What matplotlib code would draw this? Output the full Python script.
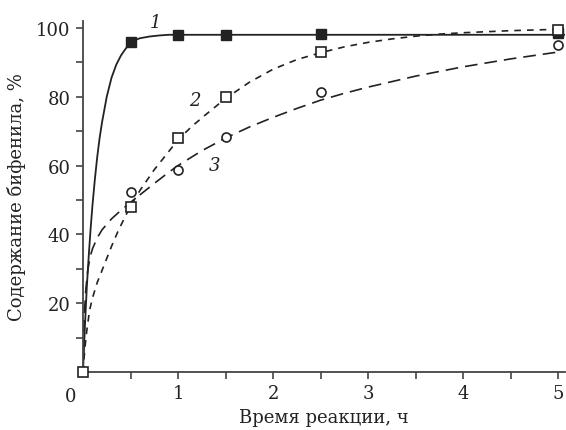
import matplotlib.pyplot as plt

# --- experimental points -------------------------------------------------
t_pts = [0.5, 1.0, 1.5, 2.5, 5.0]
c1_pts = [96.0, 98.0, 98.0, 98.3, 98.5]
c2_pts = [48.0, 68.0, 80.0, 93.0, 99.5]
c3_pts = [52.2, 58.8, 68.2, 81.3, 95.0]

# --- fitted curves -------------------------------------------------------
c1_x = [0, 0.02, 0.04, 0.06, 0.08, 0.1, 0.125, 0.15, 0.175, 0.2, 0.25, 0.3,
        0.35, 0.4, 0.45, 0.5, 0.55, 0.6, 0.7, 0.8, 0.9, 1.0, 5.07]
c1_y = [0, 13, 24.5, 33.5, 41.5, 48.5, 56, 62.5, 68, 72.5, 80, 85.5,
        89.3, 92, 94, 95.6, 96.5, 97.0, 97.5, 97.8, 98, 98, 98]

c2_x = [0, 0.02, 0.04, 0.07, 0.1, 0.15, 0.2, 0.25, 0.3, 0.37, 0.45, 0.5,
        0.6, 0.75, 0.9, 1.0, 1.15, 1.3, 1.5, 1.75, 2.0, 2.25, 2.5, 2.75,
        3.0, 3.25, 3.5, 3.75, 4.0, 4.5, 5.0]
c2_y = [0, 7, 12, 18, 21.5, 26, 29.5, 33, 36.5, 41, 45.5, 48.2,
        52.8, 58.8, 64, 67.5, 71.5, 75, 79.5, 84.2, 88, 90.8, 92.8, 94.5,
        95.8, 96.8, 97.6, 98.2, 98.6, 99.2, 99.6]

c3_x = [0, 0.005, 0.015, 0.03, 0.05, 0.075, 0.1, 0.15, 0.2, 0.3, 0.4, 0.5,
        0.6, 0.75, 0.9, 1.0, 1.25, 1.5, 1.75, 2.0, 2.25, 2.5, 2.75, 3.0,
        3.5, 4.0, 4.5, 5.0]
c3_y = [0, 8, 17, 24, 29.5, 33.5, 35.8, 39, 41.3, 44.5, 47, 49.3,
        51.5, 54.8, 58, 60, 64.3, 68, 71.2, 74, 76.6, 79, 81, 82.8,
        86, 88.7, 91, 93]

x_ticks = [0.5, 1, 1.5, 2, 2.5, 3, 3.5, 4, 4.5, 5]
x_labels = ["", "1", "", "2", "", "3", "", "4", "", "5"]
y_ticks = [10, 20, 30, 40, 50, 60, 70, 80, 90, 100]
y_labels = ["", "20", "", "40", "", "60", "", "80", "", "100"]

plt.rcParams['font.family'] = ['DejaVu Serif']
ink = '#222222'

fig = plt.figure(figsize=(5.66, 4.31), dpi=100)
ax = fig.add_axes([0.1466, 0.1346, 0.8517, 0.8143])

# 1) curves ---------------------------------------------------------------
ax.plot(c1_x, c1_y, color=ink, lw=1.3, solid_joinstyle='round')
ax.plot(c2_x, c2_y, color=ink, lw=1.2, dashes=(4, 3.6))
ax.plot(c3_x, c3_y, color=ink, lw=1.2, dashes=(7.6, 4.2))

# 2) points ---------------------------------------------------------------
ax.plot(t_pts, c1_pts, 's', ms=7, color=ink, mec=ink, zorder=5, clip_on=False)
ax.plot([0] + t_pts, [0] + c2_pts, 's', ms=7, mfc='white', mec=ink, mew=1.2,
        zorder=5, clip_on=False)
ax.plot(t_pts, c3_pts, 'o', ms=6.5, mfc='white', mec=ink, mew=1.2,
        zorder=5, clip_on=False)

# 3) curve numbers --------------------------------------------------------
lbl = dict(fontsize=13, style='italic', color=ink, ha='center', va='center')
ax.text(0.76, 101.7, "1", clip_on=False, **lbl)
ax.text(1.18, 79, "2", **lbl)
ax.text(1.38, 60.3, "3", **lbl)

# 4) axes -----------------------------------------------------------------
ax.set_xlim(0, 5.07)
ax.set_ylim(0, 102)
for s in ['top', 'right']:
    ax.spines[s].set_visible(False)
for s in ['left', 'bottom']:
    ax.spines[s].set_color('#444444')
    ax.spines[s].set_linewidth(1.3)
ax.set_xticks(x_ticks)
ax.set_xticklabels(x_labels)
ax.set_yticks(y_ticks)
ax.set_yticklabels(y_labels)
ax.tick_params(direction='out', length=5, width=1.2, color='#444444',
               labelsize=13, labelcolor=ink, pad=4)
ax.text(-0.13, -4.5, "0", fontsize=13, color=ink, ha='center', va='top',
        clip_on=False)

ax.set_xlabel("Время реакции, ч", fontsize=13, color=ink, labelpad=4)
ax.set_ylabel("Содержание бифенила, %", fontsize=13, color=ink, labelpad=7)

fig.savefig("out.png", dpi=100)
